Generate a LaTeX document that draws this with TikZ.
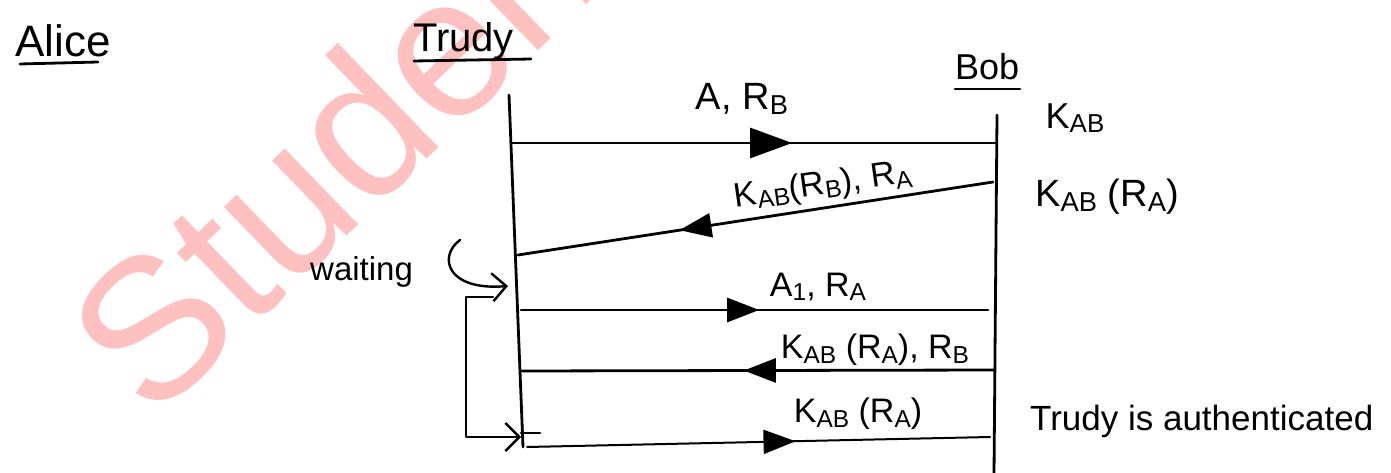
\documentclass[tikz,border=0pt]{standalone}
\usepackage{fontspec}
\setmainfont{Liberation Sans}
\usetikzlibrary{arrows.meta,decorations.markings}
\newcommand{\lo}[1]{\raisebox{-0.25ex}{\scalebox{0.72}{#1}}}
\definecolor{wmark}{RGB}{255,192,192}
\tikzset{
  pen/.style={line width=2.8pt, line cap=round, line join=round},
  lifeline/.style={pen},
  msg/.style={pen, postaction={decorate},
    decoration={markings, mark=at position #1 with {\arrow{Triangle[length=32pt,width=24pt]}}}},
  bigmsg/.style={pen, postaction={decorate},
    decoration={markings, mark=at position #1 with {\arrow{Triangle[length=42pt,width=30pt]}}}},
  hook/.style={pen, line width=2.4pt, -{Straight Barb[length=14pt,width=28pt,line width=2.4pt]}},
  lbl/.style={inner sep=0pt, font=\fontsize{34}{36}\selectfont},
  actor/.style={inner sep=0pt, anchor=base west},
  wmtext/.style={inner sep=0pt, anchor=base west, text=wmark, font=\fontsize{200}{204}\selectfont}
}
\begin{document}
\begin{tikzpicture}[x=1pt,y=-1pt]
\useasboundingbox (0,0) rectangle (1391,473);
% watermark
\begin{scope}
\clip (0,0) rectangle (1391,473);
\node[wmtext, rotate=44] (wm) at (152,424) {Studen};
\end{scope}
% actors
\node[actor, font=\fontsize{44}{46}\selectfont] (alice) at (15,57) {Alice};
\node[actor, font=\fontsize{40}{42}\selectfont] (trudy) at (413,52) {Trudy};
\node[actor, font=\fontsize{36}{38}\selectfont] (bob) at (955,80) {Bob};
\draw[pen] (20,64) -- (98,62);
\draw[pen] (414,61) -- (531,59);
\draw[pen] (955,89) -- (1020,89);
% lifelines
\coordinate (Ttop) at (509,95);
\coordinate (Tbot) at (523,447);
\coordinate (Btop) at (997,115);
\coordinate (Bbot) at (994,473);
\draw[lifeline] (Ttop) -- (Tbot);
\draw[lifeline] (Btop) -- (Bbot);
% message end points
\coordinate (m1a) at (512,143); \coordinate (m1b) at (995,143);
\coordinate (m2a) at (993,182); \coordinate (m2b) at (518,255);
\coordinate (m3a) at (521,310); \coordinate (m3b) at (988,310);
\coordinate (m4a) at (994,370); \coordinate (m4b) at (522,371);
\coordinate (m5a) at (527,447); \coordinate (m5b) at (990,437);
% messages
\draw[bigmsg=0.58] (m1a) -- (m1b);
\draw[msg=0.66] (m2a) -- (m2b);
\draw[msg=0.51] (m3a) -- (m3b);
\draw[msg=0.53] (m4a) -- (m4b);
\draw[msg=0.58, line width=2pt] (m5a) -- (m5b);
\draw[pen] (521,433) -- (540,433);
% labels
\node[lbl, font=\fontsize{38}{40}\selectfont] (l1) at (742,99) {A, R\lo{B}};
\node[lbl, rotate=8] (l2) at (823,186) {K\lo{AB}(R\lo{B}), R\lo{A}};
\node[lbl] (l3) at (818,287) {A\lo{1}, R\lo{A}};
\node[lbl] (l4) at (875,350) {K\lo{AB} (R\lo{A}), R\lo{B}};
\node[lbl] (l5) at (858,414) {K\lo{AB} (R\lo{A})};
% Bob side
\node[lbl, font=\fontsize{36}{38}\selectfont] (k1) at (1075,118) {K\lo{AB}};
\node[lbl, font=\fontsize{38}{40}\selectfont] (k2) at (1107,197) {K\lo{AB} (R\lo{A})};
\node[actor, font=\fontsize{35}{37}\selectfont] (auth) at (1030,430) {Trudy is authenticated};
% waiting
\node[actor, font=\fontsize{33}{35}\selectfont] (wait) at (310,280) {waiting};
\coordinate (w1) at (460,240);
\coordinate (w2) at (508,286);
\draw[hook] (w1) .. controls (438,256) and (446,291) .. (w2);
\coordinate (L1) at (493,297);
\coordinate (L2) at (466,297);
\coordinate (L3) at (466,437);
\coordinate (L4) at (521,437);
\draw[hook] (L1) -- (L2) -- (L3) -- (L4);
\end{tikzpicture}
\end{document}
